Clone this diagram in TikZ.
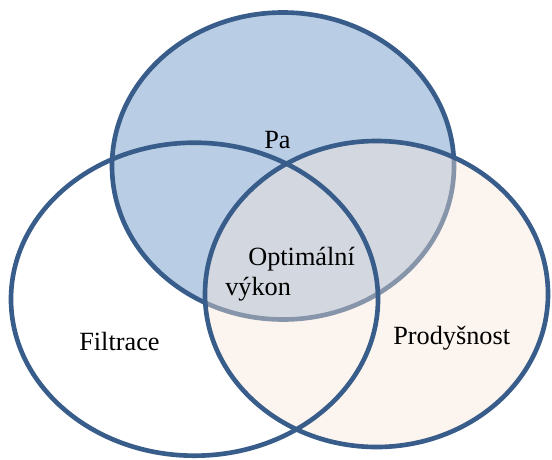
\documentclass[tikz,border=0pt]{standalone}
\usepackage{fontspec}
\setmainfont{Liberation Serif}
\usepackage{xcolor}
\definecolor{vennline}{RGB}{56,93,138}
\definecolor{paback}{RGB}{185,205,229}
\definecolor{prodback}{RGB}{250,230,216}

\begin{document}
\begin{tikzpicture}[rim/.style={draw=vennline,line width=3.3pt},
  txt/.style={inner sep=0pt,anchor=base west,font=\fontsize{18.7}{21.8}\selectfont}]
  \fill[white] (0,0) rectangle (13.8,11.475);
  \coordinate (F) at (4.8625,3.995);
  \coordinate (P) at (7.075,7.325);
  \coordinate (D) at (9.4125,4.125);
  % top set, then the half see-through right set over it
  \filldraw[fill=paback,rim] (P) ellipse[x radius=4.275,y radius=3.8375];
  \fill[prodback,fill opacity=0.41] (D) ellipse[x radius=4.2875,y radius=3.825];
  \draw[rim] (D) ellipse[x radius=4.2875,y radius=3.825];
  \draw[rim] (F) ellipse[x radius=4.5875,y radius=3.9125];
  \node[txt] (pa) at (6.6,7.7575) {Pa};
  \node[txt,align=left] (opt) at (5.625,4.0825) {\hspace*{0.575cm}Optimální\\výkon};
  \node[txt] (filt) at (1.975,2.725) {Filtrace};
  \node[txt] (prod) at (9.825,2.875) {Prodyšnost};
\end{tikzpicture}
\end{document}
